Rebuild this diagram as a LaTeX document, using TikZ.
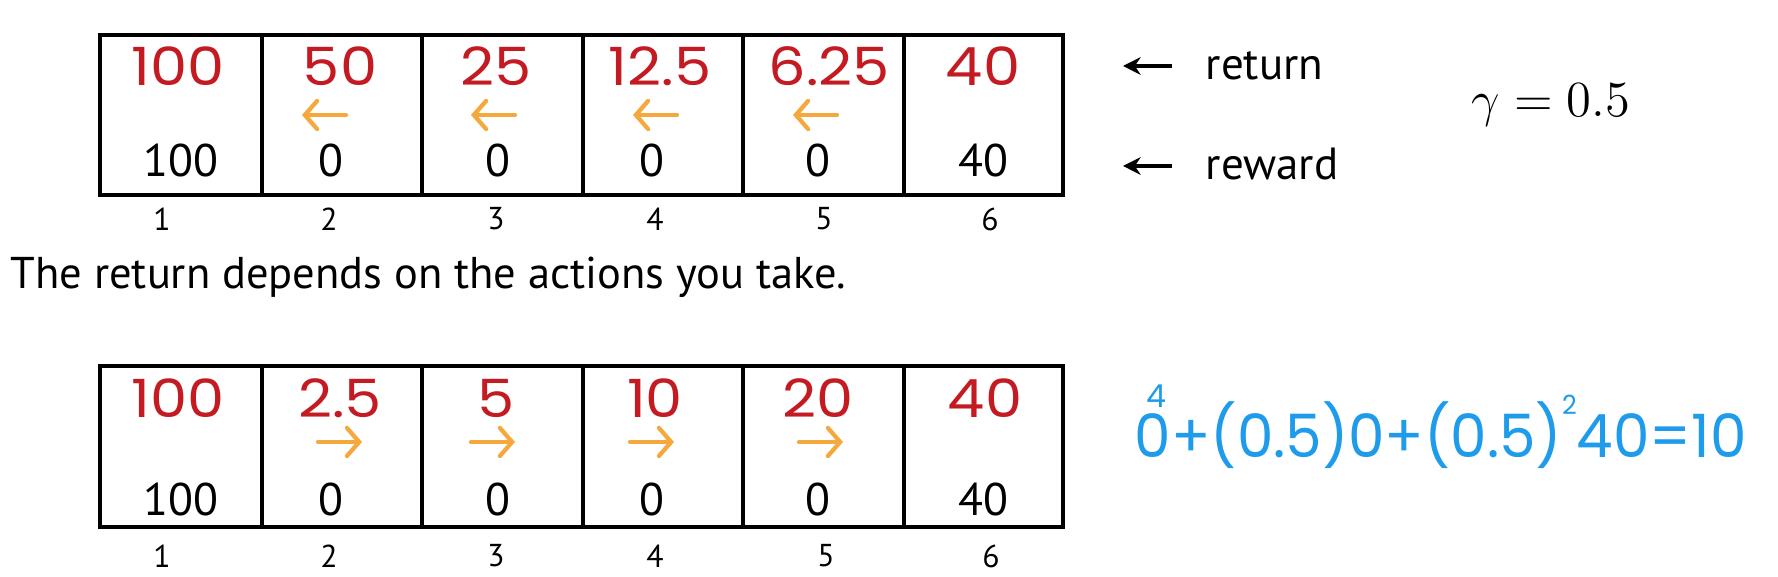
\documentclass[tikz,border=0pt]{standalone}
\usepackage{fontspec}
\setmainfont{PT Sans}
\newfontfamily\handfont{Poppins}
\usetikzlibrary{arrows.meta}
\definecolor{retred}{HTML}{C41A22}
\definecolor{actorange}{HTML}{F5A83C}
\definecolor{formblue}{HTML}{1E9BEA}
\begin{document}
\begin{tikzpicture}[x=0.01cm,y=-0.01cm,
  cellbox/.style={draw=black,line width=1.2pt},
  retnum/.style={text=retred,inner sep=0pt,font=\handfont\fontsize{15}{18}\selectfont},
  rewnum/.style={inner sep=0pt,font=\fontsize{13}{15}\selectfont},
  idxnum/.style={inner sep=0pt,font=\fontsize{9}{11}\selectfont},
  actarrow/.style={draw=actorange,line width=1.2pt,line cap=round,-{Straight Barb[length=3.5pt,width=8pt,line cap=round]}},
  lblarrow/.style={draw=black,line width=0.9pt,-{Stealth[length=5pt,width=5pt]}},
  lbltext/.style={inner sep=0pt,anchor=west,font=\fontsize{12.8}{15}\selectfont}]
\useasboundingbox[fill=white] (0,0) rectangle (1778,577);

% ---------- top row ----------
\foreach \a/\b [count=\i] in {100/262,262/422,422/583,583/743,743/904,904/1063}
  {\draw[cellbox] (\a,35) rectangle (\b,195);}
\foreach \x/\t [count=\i] in {178/100,340/50,496/25,660/12.5,829/6.25,983/40}
  {\node[retnum] (rt\i) at (\x,66) {\scalebox{1.12}[1]{\t}};}
\foreach \x [count=\i] in {324,493,655,815}
  {\draw[actarrow] (\x+22,115) -- (\x-22,115);}
\foreach \x/\t [count=\i] in {181/100,331/0,498/0,652/0,818/0,983/40}
  {\node[rewnum] (rw\i) at (\x,161) {\t};}
\foreach \x/\t [count=\i] in {162/1,329/2,496/3,655/4,824/5,990/6}
  {\node[idxnum] (ix\i) at (\x,219) {\t};}

% labels
\node[lbltext] (retlbl) at (1205,66) {return};
\node[lbltext] (rewlbl) at (1205,164) {reward};
\coordinate (retstart) at (1172,66);
\coordinate (retend) at (1123,66);
\coordinate (rewstart) at (1172,166);
\coordinate (rewend) at (1123,166);
\draw[lblarrow] (retstart) -- (retend);
\draw[lblarrow] (rewstart) -- (rewend);

\node[inner sep=0pt,font=\fontsize{15.5}{18}\selectfont] (gam) at (1551,105) {$\gamma = 0.5$};

% sentence
\node[inner sep=0pt,anchor=base west,font=\fontsize{12.65}{15}\selectfont] (sent) at (10,289)
  {The return depends on the actions you take.};

% ---------- bottom row ----------
\foreach \a/\b [count=\i] in {100/262,262/422,422/583,583/743,743/904,904/1063}
  {\draw[cellbox] (\a,366) rectangle (\b,527);}
\foreach \x/\t [count=\i] in {178/100,340/2.5,496/5,655/10,818/20,985/40}
  {\node[retnum] (bt\i) at (\x,398) {\scalebox{1.12}[1]{\t}};}
\foreach \x [count=\i] in {340,493,652,821}
  {\draw[actarrow] (\x-22,442) -- (\x+22,442);}
\foreach \x/\t [count=\i] in {181/100,331/0,498/0,652/0,818/0,983/40}
  {\node[rewnum] (bw\i) at (\x,500) {\t};}
\foreach \x/\t [count=\i] in {162/1,329/2,496/3,655/4,826/5,991/6}
  {\node[idxnum] (bx\i) at (\x,556) {\t};}

% formula
\node[inner sep=0pt,anchor=base west,text=formblue,font=\handfont\fontsize{17}{20}\selectfont] (form) at (1134,458)
  {\scalebox{0.97}[1]{0+(0.5)0+(0.5)\raisebox{0.72em}{\fontsize{7.5}{8}\selectfont 2}40=10}};
\node[inner sep=0pt,text=formblue,font=\handfont\fontsize{9}{10}\selectfont] (four) at (1156,396) {4};
\end{tikzpicture}
\end{document}
